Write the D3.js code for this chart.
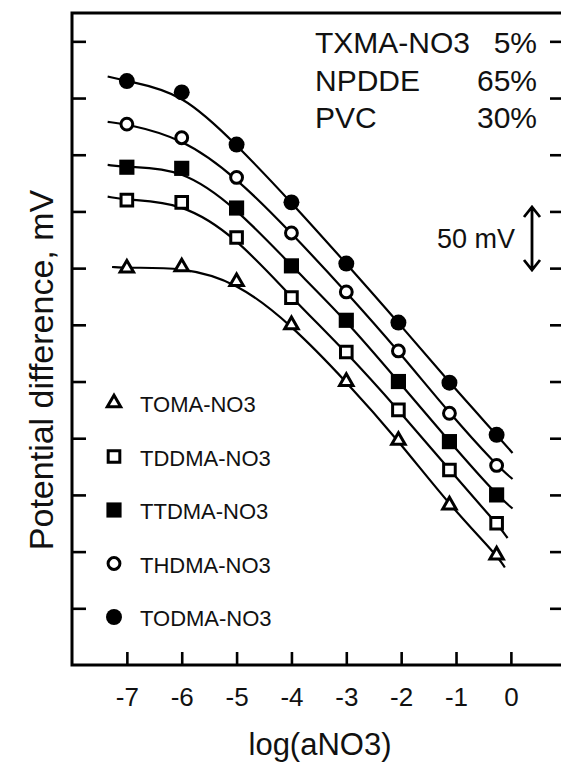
<!DOCTYPE html>
<html>
<head>
<meta charset="utf-8">
<script src="https://cdn.jsdelivr.net/npm/d3@7"></script>
<style>
  body { margin: 0; background: #fff; }
  svg { display: block; font-family: 'Liberation Sans', Arial, Helvetica, sans-serif; }
</style>
</head>
<body>
<script>
// log activity of nitrate at which each electrode was measured
const logA = [-7, -6, -5, -4, -3, -2.05, -1.12, -0.26];

// potential difference, mV (arbitrary offset)
const names = ['TOMA-NO3', 'TDDMA-NO3', 'TTDMA-NO3', 'THDMA-NO3', 'TODMA-NO3'];
const toma = [350, 351, 338, 300, 250, 198, 141, 97];
const tddma = [410, 408, 377, 324, 276, 225, 172, 125];
const ttdma = [439, 438, 403, 352, 304, 250, 197, 150];
const thdma = [477, 465, 430, 381, 329, 277, 222, 176];
const todma = [515, 505, 459, 408, 354, 302, 249, 203];

// ends of the fitted curves
const fitStartX = [-7.27, -7.35, -7.35, -7.35, -7.35];
const fitStart = [351, 413, 441, 479, 519];
const fitEndX = [-0.11, -0.06, 0.03, 0.03, 0.03];
const fitEnd = [86, 112, 138, 164, 187];

const markers = ['triangle', 'square', 'square', 'circle', 'circle'];
const filled = [false, false, true, false, true];

const xTicks = [-7, -6, -5, -4, -3, -2, -1, 0];
const yTicks = [50, 100, 150, 200, 250, 300, 350, 400, 450, 500, 550];

const membrane = ['TXMA-NO3', 'NPDDE', 'PVC'];
const membranePct = ['5%', '65%', '30%'];

const width = 561, height = 763;
const margin = { top: 13, right: -2, bottom: 98, left: 72 };

const x = d3.scaleLinear()
  .domain([-8, 0.95])
  .range([margin.left, width - margin.right]);
const y = d3.scaleLinear()
  .domain([0, 575])
  .range([height - margin.bottom, margin.top]);

const svg = d3.select('body').append('svg')
  .attr('width', width)
  .attr('height', height);

// frame
svg.append('rect')
  .attr('x', x.range()[0])
  .attr('y', y.range()[1])
  .attr('width', x.range()[1] - x.range()[0])
  .attr('height', y.range()[0] - y.range()[1])
  .attr('fill', 'none')
  .attr('stroke', '#000')
  .attr('stroke-width', 3);

function styleAxis(g) {
  g.select('.domain').remove();
  g.selectAll('.tick line').attr('stroke', '#000').attr('stroke-width', 2.6);
  g.selectAll('.tick text').attr('fill', '#111');
}

svg.append('g')
  .attr('transform', `translate(0,${y.range()[0]})`)
  .call(d3.axisBottom(x).tickValues(xTicks).tickSize(-13).tickPadding(23)
    .tickFormat((d) => String(d)))
  .call(styleAxis)
  .call((g) => g.selectAll('.tick text').attr('font-size', 26).attr('font-family', null));

svg.append('g')
  .attr('transform', `translate(${x.range()[0]},0)`)
  .call(d3.axisLeft(y).tickValues(yTicks).tickSize(-14).tickFormat(''))
  .call(styleAxis);

svg.append('g')
  .attr('transform', `translate(${x.range()[1]},0)`)
  .call(d3.axisRight(y).tickValues(yTicks).tickSize(-13).tickFormat(''))
  .call(styleAxis);

// axis titles
svg.append('text')
  .attr('x', 320)
  .attr('y', 755)
  .attr('text-anchor', 'middle')
  .attr('font-size', 31)
  .attr('fill', '#111')
  .text('log(aNO3)');

svg.append('text')
  .attr('transform', 'translate(53,370) rotate(-90)')
  .attr('text-anchor', 'middle')
  .attr('font-size', 34)
  .attr('fill', '#111')
  .text('Potential difference, mV');

// fitted curves and points
const all = [toma, tddma, ttdma, thdma, todma];
const line = d3.line()
  .x((d) => x(d[0]))
  .y((d) => y(d[1]))
  .curve(d3.curveBasis);

const symbolType = { circle: d3.symbolCircle, square: d3.symbolSquare, triangle: d3.symbolTriangle };
function symbolSize(kind, isFilled) {
  if (kind === 'circle') return isFilled ? 200 : 110;
  if (kind === 'square') return isFilled ? 230 : 135;
  return 78;
}

all.forEach((vals, i) => {
  const pts = logA.map((a, j) => [a, vals[j]]);
  const curve = [[fitStartX[i], fitStart[i]], ...pts, [fitEndX[i], fitEnd[i]]];

  svg.append('path')
    .datum(curve)
    .attr('d', line)
    .attr('fill', 'none')
    .attr('stroke', '#000')
    .attr('stroke-width', 2.2);

  svg.append('g')
    .selectAll('path')
    .data(pts)
    .join('path')
    .attr('transform', (d) => `translate(${x(d[0])},${y(d[1])})`)
    .attr('d', d3.symbol(symbolType[markers[i]], symbolSize(markers[i], filled[i])))
    .attr('fill', filled[i] ? '#000' : '#fff')
    .attr('stroke', '#000')
    .attr('stroke-width', filled[i] ? 0 : 3);
});

// legend
const legend = svg.append('g')
  .selectAll('g')
  .data(names)
  .join('g')
  .attr('transform', (d, i) => `translate(114,${403 + i * 53.5})`);

legend.append('path')
  .attr('d', (d, i) => d3.symbol(symbolType[markers[i]], symbolSize(markers[i], filled[i]))())
  .attr('fill', (d, i) => (filled[i] ? '#000' : '#fff'))
  .attr('stroke', '#000')
  .attr('stroke-width', (d, i) => (filled[i] ? 0 : 3));

legend.append('text')
  .attr('x', 26)
  .attr('y', 9)
  .attr('font-size', 22)
  .attr('fill', '#111')
  .text((d) => d);

// membrane composition
const comp = svg.append('g')
  .selectAll('g')
  .data(membrane)
  .join('g')
  .attr('transform', (d, i) => `translate(0,${53 + i * 37.5})`)
  .attr('font-size', 30)
  .attr('fill', '#111');

comp.append('text').attr('x', 315).text((d) => d);
comp.append('text').attr('x', 537).attr('text-anchor', 'end').text((d, i) => membranePct[i]);

// 50 mV scale arrow
svg.append('text')
  .attr('x', 515)
  .attr('y', 248)
  .attr('text-anchor', 'end')
  .attr('font-size', 27)
  .attr('fill', '#111')
  .text('50 mV');

svg.append('path')
  .attr('d', 'M532,208V269M524,217L532,207L540,217M524,260L532,270L540,260')
  .attr('fill', 'none')
  .attr('stroke', '#000')
  .attr('stroke-width', 2.8);
</script>
</body>
</html>
